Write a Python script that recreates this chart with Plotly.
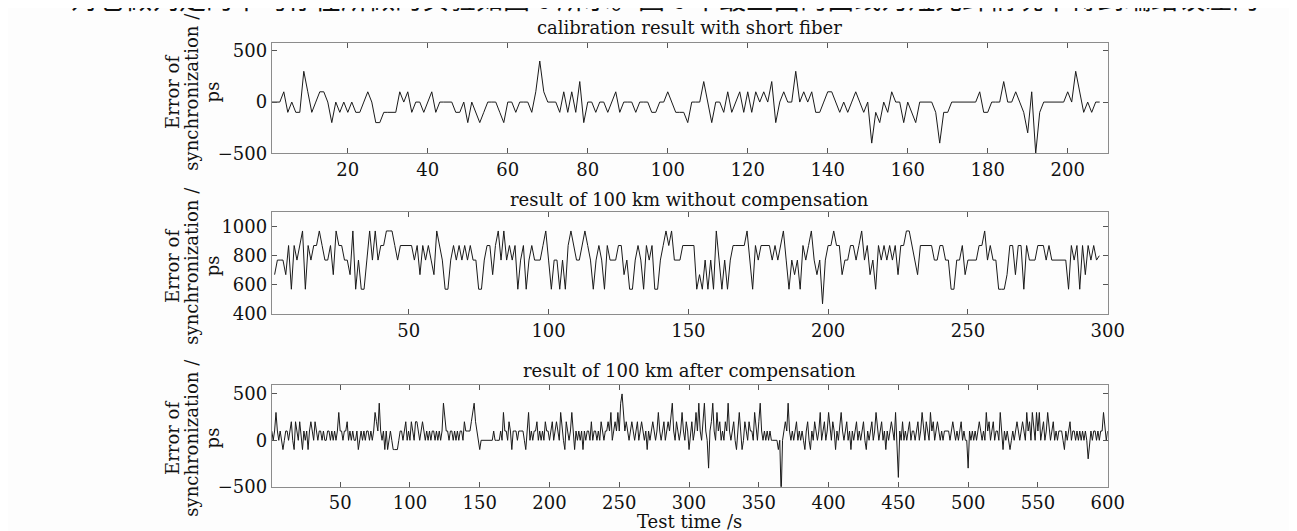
import plotly.graph_objects as go

# ---------------- data (ps) ----------------
top_vals = [0, 0, 0, 100, -100, 0, -100, -100, 300, 100,
            -100, 0, 100, 100, 0, -200, 0, -100, 0, -100,
            0, -100, -100, 0, 100, 0, -200, -200, -100, -100,
            -100, -100, 100, 0, 100, -100, 0, 0, -100, 0,
            100, -100, 0, 0, 0, 0, -100, -100, 0, -200,
            0, -100, -200, -100, 0, 0, 0, -100, -200, 0,
            0, -100, 0, 0, 0, -100, 100, 400, 100, 0,
            0, 0, -100, 100, -100, 100, -100, 200, -200, 0,
            0, -100, 0, 0, -100, 0, 100, -100, 0, 0,
            0, -100, 0, 0, 0, -100, -100, 0, 0, 100,
            0, -100, -100, -100, -200, 0, 0, 0, 200, 0,
            -200, 0, 0, -100, 100, -100, 0, 100, -100, 100,
            -100, 100, 0, 100, 0, 200, -200, 0, 100, 0,
            0, 300, 0, 100, 0, 100, -100, -100, 0, 100,
            100, 0, -100, 0, -100, 0, 100, 0, -100, 0,
            -400, -100, -200, 0, -100, 100, 0, 0, -200, 0,
            -100, -200, 0, 0, 0, 0, -100, -400, -100, -100,
            0, 0, 0, 0, 0, 0, 0, 100, -100, -100,
            0, 0, 0, 200, 0, 0, 100, 0, -100, -300,
            100, -500, -100, 0, 0, 0, 0, 0, 0, 100,
            0, 300, 100, -100, 0, -100, 0, 0]

mid_vals = [670, 770, 770, 770, 670, 870, 570, 870, 770,
            870, 970, 570, 870, 770, 870, 870, 970, 870, 770,
            770, 870, 670, 970, 870, 870, 770, 770, 670, 970,
            570, 770, 570, 570, 770, 970, 770, 970, 770, 870,
            870, 970, 970, 970, 870, 770, 870, 870, 870, 870,
            870, 770, 870, 670, 870, 770, 870, 770, 670, 970,
            870, 770, 570, 570, 770, 870, 770, 870, 770, 870,
            770, 870, 770, 770, 570, 570, 770, 870, 870, 670,
            870, 970, 770, 970, 770, 870, 770, 870, 570, 770,
            870, 570, 770, 870, 770, 770, 770, 870, 970, 770,
            570, 770, 770, 570, 770, 570, 870, 970, 870, 770,
            770, 870, 970, 870, 770, 570, 770, 870, 770, 570,
            870, 770, 770, 770, 870, 870, 670, 770, 570, 570,
            770, 870, 770, 570, 870, 770, 870, 570, 570, 770,
            870, 970, 870, 970, 770, 770, 770, 870, 870, 870,
            870, 870, 570, 670, 570, 770, 570, 770, 570, 970,
            770, 570, 770, 570, 770, 870, 870, 870, 870, 870,
            970, 770, 570, 870, 770, 870, 870, 870, 870, 770,
            870, 770, 870, 970, 770, 570, 770, 670, 770, 570,
            870, 770, 870, 970, 770, 670, 770, 470, 770, 870,
            870, 970, 870, 870, 670, 770, 770, 870, 870, 770,
            870, 970, 770, 870, 670, 770, 570, 870, 770, 870,
            770, 870, 770, 870, 670, 870, 870, 970, 970, 870,
            770, 670, 870, 870, 870, 870, 870, 770, 770, 870,
            870, 770, 770, 570, 570, 770, 770, 870, 670, 770,
            770, 770, 770, 870, 870, 970, 770, 870, 770, 770,
            570, 570, 570, 670, 870, 870, 670, 870, 870, 570,
            870, 770, 770, 770, 870, 870, 870, 770, 870, 770,
            770, 770, 770, 770, 770, 570, 870, 770, 870, 570,
            870, 670, 870, 770, 870, 770, 800]

bot_vals = [100, 0, 100, 300, 100, 0, 100, 0, -100, 0,
            100, 100, 0, 100, 200, 0, -100, 200, 100, 0,
            200, 0, -100, 100, 0, 100, -100, 100, 200, 100,
            0, 200, 100, 0, 100, 100, 0, 100, 0, 0,
            100, 100, 0, 100, 0, 100, 0, 100, 300, 100,
            100, 0, 100, 100, 200, 0, 100, 0, 100, 0,
            0, 100, -100, 0, 100, 0, 100, 0, 100, 100,
            0, 100, 0, 100, 300, 200, 100, 400, 100, 0,
            100, -100, 100, -100, 0, 100, 0, -100, -100, -100,
            -100, 0, 100, 100, 0, 100, 200, 0, 100, 0,
            200, 100, 0, 200, 200, 100, 0, 100, 200, 100,
            0, 100, 0, 100, 0, 100, 100, 0, 100, 0,
            100, 0, 100, 400, 200, 100, 100, 0, 100, 100,
            0, 100, 0, 100, 0, 100, 100, 0, 200, 100,
            100, 100, 100, 200, 300, 400, 200, 100, 0, -100,
            0, 0, 0, 0, 0, 0, 0, 0, 0, 100,
            0, 0, 0, 0, 100, 0, 300, 100, 100, 0,
            200, 100, -100, 100, 100, 100, 0, 100, 100, 100,
            100, 0, -100, 100, 300, 0, 100, 0, 100, 100,
            200, 0, 100, 0, 100, 0, 200, 100, 100, 0,
            100, 200, 0, 100, 200, 100, 0, 300, 100, 0,
            -100, 200, 100, 0, 100, 300, 100, -100, 100, 0,
            100, 0, 100, -100, 100, 0, 100, 100, 0, 200,
            0, 100, 100, 0, 100, 0, 200, 100, 0, 100,
            100, 200, 100, 300, 0, 100, 200, 100, 300, 100,
            400, 500, 300, 100, 200, 100, 0, 100, 200, 100,
            0, 100, 200, 0, 100, 200, 100, 0, 100, -100,
            100, 0, 100, 200, 100, 0, 100, 300, 100, 0,
            100, 200, 0, 100, 200, 100, 300, 400, 100, 0,
            200, 100, 0, 100, 300, 100, 0, 200, 100, -100,
            100, 200, 0, 100, 300, 100, 400, 100, 0, 200,
            400, 100, 0, -300, 100, 200, 400, 100, 0, 300,
            100, 200, 0, 100, 0, 200, 100, 400, 100, 0,
            100, 200, 0, -100, 100, 300, 100, -100, 0, 200,
            100, 0, 200, 100, 100, 0, 300, 100, 0, 200,
            400, 100, 0, 100, 0, 100, 0, 100, 0, 0,
            0, 0, 0, -100, 0, -600, 0, 100, 200, 100,
            400, 100, 0, 100, 0, 100, 200, 0, 100, 0,
            100, 0, -100, 100, 200, 0, -100, 100, 0, 200,
            100, 0, 100, 300, 0, 100, 200, 0, 100, 300,
            100, 0, 200, 100, -100, 100, 0, 200, 300, 100,
            0, 100, 200, 0, 100, -100, 100, 0, 100, 200,
            0, 100, 0, 100, 200, 0, -100, 100, 0, 100,
            200, 0, 100, 300, 100, 0, 100, 200, 0, 100,
            -100, 100, 0, 100, 200, 100, 0, 300, 0, -400,
            100, 0, 200, 0, 100, 0, 100, 200, 0, 100,
            100, 0, 100, 200, 0, 100, 300, 100, 0, 200,
            100, 0, 300, 100, 200, 0, 100, 200, 100, 0,
            100, 0, 100, 100, 100, 100, 0, 100, 200, 100,
            0, 100, 0, 100, 200, 0, 100, 0, 0, -300,
            100, 0, 100, 0, 100, 0, 100, 200, 100, 0,
            100, 0, 300, 100, 200, 0, 100, 200, 0, 100,
            100, 0, 300, 100, -100, 100, 0, 100, 0, -100,
            0, 100, 0, 100, 200, 100, 0, 100, 200, 100,
            0, 300, 100, 200, 0, 300, 100, 0, 300, 100,
            300, 0, 100, 200, 0, 100, 300, 100, 0, 100,
            200, 0, 100, 0, 100, 100, 100, 0, -100, 100,
            0, 100, 200, 0, 100, 100, 0, 100, 0, 100,
            0, 100, 0, 100, 0, -200, 0, 100, 0, 100,
            100, 0, 100, 0, 100, 100, 300, 100, 0, 100]

top_x = list(range(1, len(top_vals) + 1))
mid_x = list(range(2, len(mid_vals) + 2))
bot_x = list(range(1, len(bot_vals) + 1))

titles = ["calibration result with short fiber",
          "result of 100 km without compensation",
          "result of 100 km after compensation"]
x_label = "Test time /s"
y_label_lines = ["Error of", "synchronization /", "ps"]
top_xticks = [20, 40, 60, 80, 100, 120, 140, 160, 180, 200]
mid_xticks = [50, 100, 150, 200, 250, 300]
bot_xticks = [50, 100, 150, 200, 250, 300, 350, 400, 450, 500, 550, 600]
top_yticks = [-500, 0, 500]
mid_yticks = [400, 600, 800, 1000]
bot_yticks = [-500, 0, 500]
header_text = "对它做判定的平均存在所做的实验如图 6 所示。图 6 中最上面的曲线为短光纤情况下得到端结误差的"

# ---------------- layout geometry (pixels) ----------------
W, H = 1297, 531
x0, x1 = 267.3, 1114.3
panels = [(33.3, 146.7), (206.7, 311.0), (383.3, 487.7)]
title_gap = [15, 13, 14]
label_centers = [84, 262, 438]

def py(v):
    return 1 - v / H

FONT = "DejaVu Serif"
line_col = "#8c8c8c"

fig = go.Figure()
series = [(top_x, top_vals), (mid_x, mid_vals), (bot_x, bot_vals)]
for i, (xs, ys) in enumerate(series):
    sfx = "" if i == 0 else str(i + 1)
    fig.add_trace(go.Scatter(x=xs, y=ys, mode="lines",
                             line=dict(color="#1a1a1a", width=1),
                             xaxis="x" + sfx, yaxis="y" + sfx,
                             showlegend=False, hoverinfo="skip"))

xranges = [[1, 210], [1, 300], [1, 600]]
yranges = [[-500, 580], [400, 1100], [-500, 600]]
xticks = [top_xticks, mid_xticks, bot_xticks]
yticks = [top_yticks, mid_yticks, bot_yticks]

axcommon = dict(showline=True, linecolor=line_col, linewidth=1, mirror="ticks",
                ticks="inside", ticklen=5, tickcolor="#555555", tickwidth=1,
                showgrid=False, zeroline=False,
                tickfont=dict(family=FONT, size=18, color="#111111"))

layout = dict(width=W, height=H, margin=dict(l=0, r=0, t=0, b=0),
              paper_bgcolor="#fdfdfd", plot_bgcolor="#fdfdfd",
              showlegend=False)
annotations = []
for i in range(3):
    sfx = "" if i == 0 else str(i + 1)
    top, bot = panels[i]
    layout["xaxis" + sfx] = dict(axcommon, domain=[x0 / W, x1 / W],
                                 range=xranges[i], tickvals=xticks[i],
                                 anchor="y" + sfx)
    layout["yaxis" + sfx] = dict(axcommon, domain=[py(bot), py(top)],
                                 range=yranges[i], tickvals=yticks[i],
                                 anchor="x" + sfx)
    annotations.append(dict(text=titles[i], xref="paper", yref="paper",
                            x=(x0 + x1) / 2 / W, y=py(top - title_gap[i]),
                            xanchor="center", yanchor="middle", showarrow=False,
                            font=dict(family=FONT, size=18, color="#111111")))
    yc = label_centers[i]
    for j, (t, xp) in enumerate(zip(y_label_lines, [166, 186, 207])):
        annotations.append(dict(text=t, xref="paper", yref="paper",
                                x=xp / W, y=py(yc), textangle=-90,
                                xanchor="center", yanchor="middle", showarrow=False,
                                font=dict(family=FONT, size=18, color="#111111")))

annotations.append(dict(text=x_label, xref="paper", yref="paper",
                        x=(x0 + x1) / 2 / W, y=py(523), xanchor="center",
                        yanchor="middle", showarrow=False,
                        font=dict(family=FONT, size=18, color="#111111")))
annotations.append(dict(text=header_text, xref="paper", yref="paper",
                        x=62 / W, y=py(-13), xanchor="left", yanchor="middle",
                        showarrow=False,
                        font=dict(family="Noto Sans CJK SC", size=27, color="#111111")))
layout["annotations"] = annotations
fig.update_layout(**layout)
fig.write_html("out.html")
